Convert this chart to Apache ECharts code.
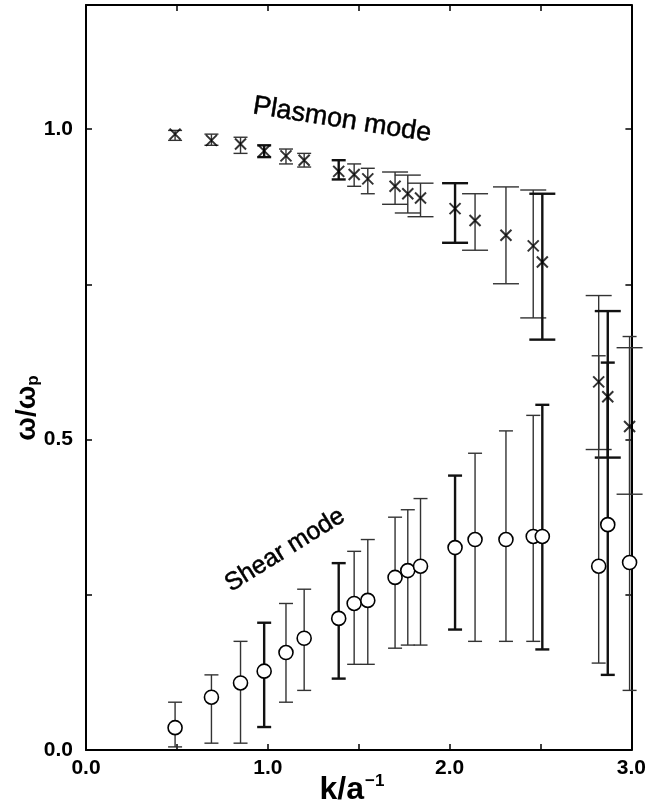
<!DOCTYPE html>
<html>
<head>
<meta charset="utf-8">
<script src="https://cdn.jsdelivr.net/npm/echarts@6/dist/echarts.min.js"></script>
<style>
html,body{margin:0;padding:0;background:#fff;}
#chart{width:649px;height:808px;}
</style>
</head>
<body>
<div id="chart"></div>
<script>
// ---- data ----
const kValues = [0.49, 0.69, 0.85, 0.98, 1.10, 1.20, 1.39, 1.475, 1.55, 1.70, 1.77, 1.84, 2.03, 2.14, 2.31, 2.46, 2.51, 2.82, 2.87, 2.99];

const plasmonOmega = [0.992, 0.982, 0.976, 0.965, 0.957, 0.950, 0.932, 0.927, 0.920, 0.908, 0.896, 0.889, 0.872, 0.853, 0.829, 0.812, 0.786, 0.593, 0.569, 0.521];
const plasmonLow   = [0.982, 0.974, 0.961, 0.955, 0.944, 0.939, 0.919, 0.908, 0.896, 0.879, 0.865, 0.859, 0.817, 0.805, 0.751, 0.696, 0.661, 0.484, 0.471, 0.412];
const plasmonHigh  = [0.998, 0.992, 0.987, 0.974, 0.968, 0.961, 0.950, 0.944, 0.937, 0.931, 0.926, 0.913, 0.913, 0.896, 0.907, 0.902, 0.896, 0.732, 0.707, 0.648];

const shearOmega = [0.036, 0.085, 0.108, 0.127, 0.157, 0.180, 0.212, 0.236, 0.241, 0.278, 0.289, 0.296, 0.326, 0.339, 0.339, 0.344, 0.344, 0.296, 0.363, 0.302];
const shearLow   = [0.005, 0.011, 0.011, 0.037, 0.077, 0.096, 0.115, 0.138, 0.138, 0.164, 0.169, 0.169, 0.194, 0.175, 0.175, 0.175, 0.162, 0.140, 0.121, 0.096];
const shearHigh  = [0.077, 0.121, 0.175, 0.205, 0.236, 0.259, 0.301, 0.320, 0.339, 0.375, 0.387, 0.405, 0.442, 0.478, 0.514, 0.539, 0.556, 0.635, 0.624, 0.666];

const xTickLabels = ['0.0', '1.0', '2.0', '3.0'];
const yTickLabels = ['0.0', '0.5', '1.0'];

// ---- styles ----
const FONT = '"Liberation Sans", Arial, Helvetica, sans-serif';
const thickBars = [3, 6, 12, 16, 18];   // error bars drawn heavier in the reference

const chart = echarts.init(document.getElementById('chart'), null, {renderer: 'canvas'});

function barRenderer(capFn) {
  return function (params, api) {
    const i = params.dataIndex;
    const x = api.value(0);
    const pLo = api.coord([x, api.value(1)]);
    const pHi = api.coord([x, api.value(2)]);
    const thick = thickBars.indexOf(i) >= 0;
    const lw = thick ? 2.4 : 1.4;
    const col = thick ? '#111' : '#333';
    const half = capFn(i) / 2;
    const st = {stroke: col, lineWidth: lw, fill: null};
    return {
      type: 'group',
      children: [
        {type: 'line', shape: {x1: pLo[0], y1: pLo[1], x2: pHi[0], y2: pHi[1]}, style: st},
        {type: 'line', shape: {x1: pLo[0] - half, y1: pLo[1], x2: pLo[0] + half, y2: pLo[1]}, style: st},
        {type: 'line', shape: {x1: pHi[0] - half, y1: pHi[1], x2: pHi[0] + half, y2: pHi[1]}, style: st}
      ]
    };
  };
}

const xLabelFmt = v => {
  const s = v.toFixed(1);
  return xTickLabels.indexOf(s) >= 0 ? s : '';
};
const yLabelFmt = v => {
  const s = v.toFixed(1);
  return (yTickLabels.indexOf(s) >= 0 && Math.abs(v - parseFloat(s)) < 1e-9) ? s : '';
};

const axisLine = {show: true, onZero: false, lineStyle: {color: '#000', width: 2}};
const axisTick = {show: true, inside: true, length: 6, lineStyle: {color: '#000', width: 1.5}};

const option = {
  backgroundColor: '#fff',
  animation: false,
  grid: {left: 86, right: 14, top: 5, bottom: 58, containLabel: false},
  xAxis: [
    {
      type: 'value', min: 0, max: 3, interval: 0.5, position: 'bottom',
      axisLine, axisTick, splitLine: {show: false},
      axisLabel: {formatter: xLabelFmt, color: '#000', fontFamily: FONT, fontSize: 21, fontWeight: 'bold', margin: 8, showMaxLabel: true, showMinLabel: true}
    },
    {
      type: 'value', min: 0, max: 3, interval: 0.5, position: 'top',
      axisLine, axisTick, splitLine: {show: false}, axisLabel: {show: false}
    }
  ],
  yAxis: [
    {
      type: 'value', min: 0, max: 1.2, interval: 0.25, position: 'left',
      axisLine, axisTick, splitLine: {show: false},
      axisLabel: {formatter: yLabelFmt, color: '#000', fontFamily: FONT, fontSize: 21, fontWeight: 'bold', margin: 13, showMaxLabel: false}
    },
    {
      type: 'value', min: 0, max: 1.2, interval: 0.25, position: 'right',
      axisLine, axisTick, splitLine: {show: false}, axisLabel: {show: false}
    }
  ],
  series: [
    {
      name: 'plasmon-err', type: 'custom', clip: false, z: 2,
      renderItem: barRenderer(i => (i < 9 ? 14 : 26)),
      encode: {x: 0, y: [1, 2]},
      data: kValues.map((k, i) => [k, plasmonLow[i], plasmonHigh[i]])
    },
    {
      name: 'shear-err', type: 'custom', clip: false, z: 2,
      renderItem: barRenderer(() => 14),
      encode: {x: 0, y: [1, 2]},
      data: kValues.map((k, i) => [k, shearLow[i], shearHigh[i]])
    },
    {
      name: 'Plasmon mode', type: 'scatter', z: 5,
      symbol: 'path://M0,0L10,10M10,0L0,10',
      symbolSize: 11,
      itemStyle: {color: 'rgba(0,0,0,0)', borderColor: '#000', borderWidth: 2},
      data: kValues.map((k, i) => [k, plasmonOmega[i]])
    },
    {
      name: 'Shear mode', type: 'scatter', z: 5,
      symbol: 'circle', symbolSize: 14,
      itemStyle: {color: '#fff', borderColor: '#000', borderWidth: 1.6, opacity: 1},
      data: kValues.map((k, i) => [k, shearOmega[i]])
    }
  ],
  graphic: [
    {
      type: 'text', x: 342, y: 120, rotation: -9 * Math.PI / 180, z: 10,
      style: {text: 'Plasmon mode', font: '27px ' + FONT, fill: '#000', stroke: '#000', lineWidth: 0.5, textAlign: 'center', textVerticalAlign: 'middle'}
    },
    {
      type: 'text', x: 285, y: 550, rotation: 32 * Math.PI / 180, z: 10,
      style: {text: 'Shear mode', font: '25px ' + FONT, fill: '#000', stroke: '#000', lineWidth: 0.5, textAlign: 'center', textVerticalAlign: 'middle'}
    },
    {
      type: 'text', x: 352, y: 790, z: 10,
      style: {
        text: '{a|k/a}{s|−1}',
        textAlign: 'center', textVerticalAlign: 'middle',
        rich: {
          a: {fontFamily: FONT, fontSize: 32, fontWeight: 'bold', fill: '#000', color: '#000'},
          s: {fontFamily: FONT, fontSize: 17, fontWeight: 'bold', fill: '#000', color: '#000', padding: [0, 0, 18, 1]}
        }
      }
    },
    {
      type: 'text', x: 27, y: 408, rotation: Math.PI / 2, z: 10,
      style: {
        text: '{a|ω/ω}{s|p}',
        textAlign: 'center', textVerticalAlign: 'middle',
        rich: {
          a: {fontFamily: FONT, fontSize: 28, fontWeight: 'bold', fill: '#000', color: '#000'},
          s: {fontFamily: FONT, fontSize: 17, fontWeight: 'bold', fill: '#000', color: '#000', padding: [12, 0, 0, 0]}
        }
      }
    }
  ]
};
chart.setOption(option);
</script>
</body>
</html>
